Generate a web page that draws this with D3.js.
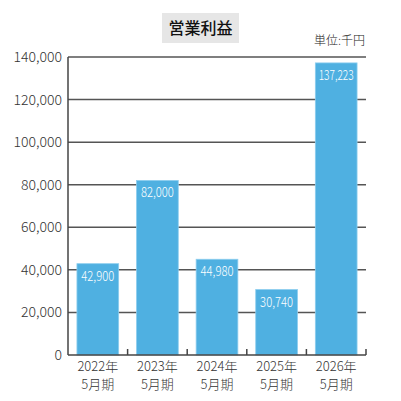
<!doctype html>
<html>
  <head>
    <meta charset="utf-8">
    <title>営業利益</title>
    <script src="https://cdnjs.cloudflare.com/ajax/libs/d3/7.8.5/d3.min.js"></script>
    <style>
      body { margin: 0; background: #fff; }
      text { font-family: "Noto Sans CJK JP", "Noto Sans", sans-serif; }
    </style>
  </head>
  <body>
    <div id="chart"></div>
    <script>
      // data
      const years = ['2022年', '2023年', '2024年', '2025年', '2026年'];
      const periods = ['5月期', '5月期', '5月期', '5月期', '5月期'];
      const profit = [42900, 82000, 44980, 30740, 137223];
      const yTicks = [0, 20000, 40000, 60000, 80000, 100000, 120000, 140000];

      const width = 401, height = 401;
      const plotL = 68, plotR = 366, plotT = 57, plotB = 355;

      const svg = d3.select('#chart')
        .append('svg')
        .attr('width', width)
        .attr('height', height);

      const x = d3.scaleBand()
        .domain(years)
        .range([plotL, plotR])
        .paddingInner(0.3)
        .paddingOuter(0.15);

      const y = d3.scaleLinear()
        .domain([0, 140000])
        .range([plotB, plotT]);

      // title box
      svg.append('rect')
        .attr('x', 162).attr('y', 13)
        .attr('width', 77).attr('height', 30)
        .attr('fill', '#e6e6e6');
      svg.append('text')
        .attr('x', 200.5).attr('y', 34)
        .attr('text-anchor', 'middle')
        .attr('font-size', 16)
        .attr('font-weight', 500)
        .attr('fill', '#111')
        .text('営業利益');
      svg.append('text')
        .attr('x', 365).attr('y', 45)
        .attr('text-anchor', 'end')
        .attr('font-size', 12)
        .attr('font-weight', 300)
        .attr('fill', '#222')
        .text('単位:千円');

      // grid lines
      svg.append('g')
        .selectAll('line')
        .data(yTicks.filter(d => d > 0))
        .join('line')
        .attr('x1', plotL).attr('x2', plotR)
        .attr('y1', d => y(d)).attr('y2', d => y(d))
        .attr('stroke', '#555')
        .attr('stroke-width', 1.5);

      // y tick labels
      svg.append('g')
        .selectAll('text')
        .data(yTicks)
        .join('text')
        .attr('x', 62)
        .attr('y', d => y(d) + 5)
        .attr('text-anchor', 'end')
        .attr('font-size', 14)
        .attr('font-weight', 300)
        .attr('fill', '#333')
        .text(d => d3.format(',')(d));

      // bars
      svg.append('g')
        .selectAll('rect')
        .data(profit)
        .join('rect')
        .attr('x', (d, i) => x(years[i]))
        .attr('y', d => y(d))
        .attr('width', x.bandwidth())
        .attr('height', d => plotB - y(d))
        .attr('fill', '#4fb0e1')
        .attr('stroke', '#8ccdee')
        .attr('stroke-width', 0.8);

      // bar labels (narrow digits like the original)
      svg.append('g')
        .selectAll('text')
        .data(profit)
        .join('text')
        .attr('x', (d, i) => x(years[i]) + x.bandwidth() / 2)
        .attr('y', d => y(d) + 17)
        .attr('text-anchor', 'middle')
        .attr('font-size', 13.5)
        .attr('font-weight', 300)
        .attr('fill', '#fff')
        .attr('textLength', d => d >= 100000 ? 35 : 33)
        .attr('lengthAdjust', 'spacingAndGlyphs')
        .text(d => d3.format(',')(d));

      // axes
      svg.append('line')
        .attr('x1', plotL).attr('x2', plotL)
        .attr('y1', plotT).attr('y2', plotB)
        .attr('stroke', '#444').attr('stroke-width', 1.5);
      svg.append('line')
        .attr('x1', plotL).attr('x2', plotR)
        .attr('y1', plotB).attr('y2', plotB)
        .attr('stroke', '#444').attr('stroke-width', 1.5);

      // category separators (ticks pointing up)
      const step = x.step();
      svg.append('g')
        .selectAll('line')
        .data(years)
        .join('line')
        .attr('x1', (d, i) => plotL + step * (i + 1))
        .attr('x2', (d, i) => plotL + step * (i + 1))
        .attr('y1', plotB).attr('y2', plotB - 6)
        .attr('stroke', '#444').attr('stroke-width', 1.5);

      // x labels, two lines each
      svg.append('g')
        .selectAll('text')
        .data(years)
        .join('text')
        .attr('x', d => x(d) + x.bandwidth() / 2)
        .attr('y', 371)
        .attr('text-anchor', 'middle')
        .attr('font-size', 13)
        .attr('font-weight', 300)
        .attr('fill', '#333')
        .text(d => d);
      svg.append('g')
        .selectAll('text')
        .data(periods)
        .join('text')
        .attr('x', (d, i) => x(years[i]) + x.bandwidth() / 2)
        .attr('y', 388.5)
        .attr('text-anchor', 'middle')
        .attr('font-size', 13)
        .attr('font-weight', 300)
        .attr('fill', '#333')
        .text(d => d);
    </script>
  </body>
</html>
